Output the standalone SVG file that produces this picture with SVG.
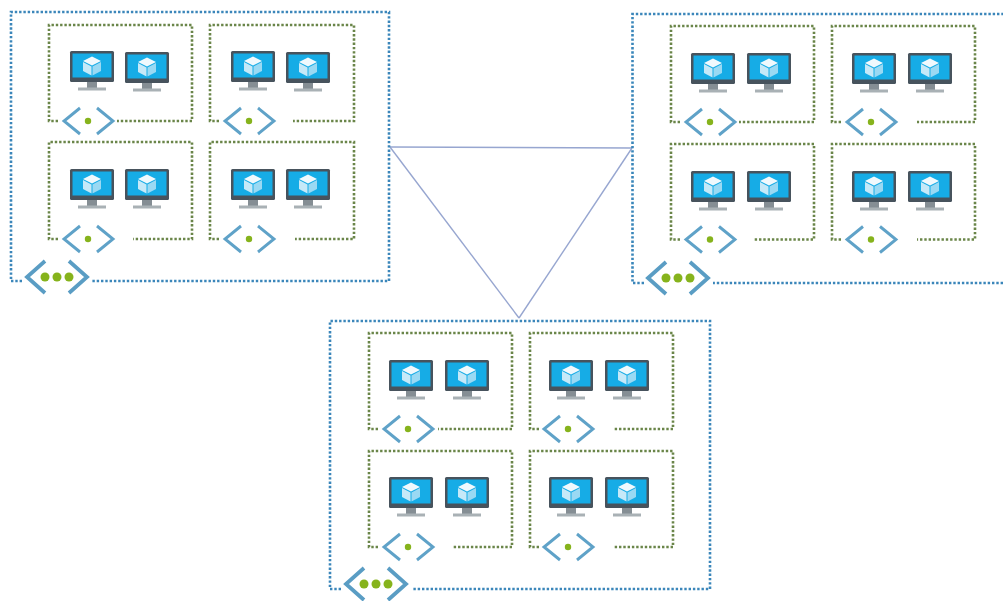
<svg xmlns="http://www.w3.org/2000/svg" width="1003" height="601" viewBox="0 0 1003 601">
<style>
.vnet{fill:none;stroke:#3a86ba;stroke-width:2.6;stroke-dasharray:2.4 1.9}
.subnet{fill:none;stroke:#6a8548;stroke-width:2.6;stroke-dasharray:2.4 1.9}
.link{fill:none;stroke:#97a6d0;stroke-width:1.4}
.chev{fill:none;stroke:#5fa2c8;stroke-width:2.9}
.chevl{fill:none;stroke:#5a9dc4;stroke-width:3.8}
.dot{fill:#86b31d}
</style>
<defs>
<filter id="soft" x="-2%" y="-2%" width="104%" height="104%"><feGaussianBlur stdDeviation="0.55"/></filter>
<g id="vm">
<rect x="0" y="0" width="44" height="31" rx="1.5" fill="#47535d"/>
<rect x="2.500" y="2.500" width="39" height="24" fill="#17ace6"/>
<rect x="17" y="31" width="10" height="6" fill="#858e94"/>
<rect x="8" y="36.500" width="28" height="3" fill="#a9b1b5"/>
<polygon points="22,5.500 31,10 22,14.500 13,10" fill="#f0f9fd"/>
<polygon points="13,11 21.500,15.500 21.500,24.500 13,20" fill="#c6e9f8"/>
<polygon points="31,11 22.500,15.500 22.500,24.500 31,20" fill="#9ad9f3"/>
</g>
<g id="snet">
<path class="chev" d="M-8,-13 L-24,0 L-8,13"/>
<path class="chev" d="M9,-13 L25,0 L9,13"/>
<circle class="dot" cx="0" cy="0" r="3.200"/>
</g>
<g id="vnicon">
<path class="chevl" d="M-12,-16 L-30,0 L-12,16"/>
<path class="chevl" d="M12,-16 L30,0 L12,16"/>
<circle class="dot" cx="-12" cy="0" r="4.500"/>
<circle class="dot" cx="0" cy="0" r="4.500"/>
<circle class="dot" cx="12" cy="0" r="4.500"/>
</g>
</defs>
<rect width="1003" height="601" fill="#ffffff"/>
<g filter="url(#soft)">
<g id="connectors">
<line class="link" x1="390" y1="147" x2="632" y2="148"/>
<line class="link" x1="390" y1="147" x2="519" y2="318"/>
<line class="link" x1="632" y1="148" x2="519" y2="318"/>
</g>
<g id="vnet-a">
<path class="vnet" d="M22,281 H11 V12 H389 V281 H92"/>
<use href="#vnicon" x="57" y="277"/>
</g>
<g id="subnet-a1">
<path class="subnet" d="M58,121 H49 V25 H192 V121 H117"/>
<use href="#vm" x="70" y="51"/><use href="#vm" x="125" y="52"/><use href="#snet" x="88" y="121"/>
</g>
<g id="subnet-a2">
<path class="subnet" d="M219,121 H210 V25 H354 V121 H293"/>
<use href="#vm" x="231" y="51"/><use href="#vm" x="286" y="52"/><use href="#snet" x="249" y="121"/>
</g>
<g id="subnet-a3">
<path class="subnet" d="M58,239 H49 V142 H192 V239 H133"/>
<use href="#vm" x="70" y="169"/><use href="#vm" x="125" y="169"/><use href="#snet" x="88" y="239"/>
</g>
<g id="subnet-a4">
<path class="subnet" d="M219,239 H210 V142 H354 V239 H295"/>
<use href="#vm" x="231" y="169"/><use href="#vm" x="286" y="169"/><use href="#snet" x="249" y="239"/>
</g>
<g id="vnet-b">
<path class="vnet" d="M644,283 H632.500 V14 H1003 M1003,283 H713"/>
<use href="#vnicon" x="678" y="278"/>
</g>
<g id="subnet-b1">
<path class="subnet" d="M680,122 H671 V26 H814 V122 H739"/>
<use href="#vm" x="691" y="53"/><use href="#vm" x="747" y="53"/><use href="#snet" x="710" y="122"/>
</g>
<g id="subnet-b2">
<path class="subnet" d="M841,122 H832 V26 H975 V122 H917"/>
<use href="#vm" x="852" y="53"/><use href="#vm" x="908" y="53"/><use href="#snet" x="871" y="122"/>
</g>
<g id="subnet-b3">
<path class="subnet" d="M680,239.500 H671 V144 H814 V239.500 H754"/>
<use href="#vm" x="691" y="171"/><use href="#vm" x="747" y="171"/><use href="#snet" x="710" y="239.500"/>
</g>
<g id="subnet-b4">
<path class="subnet" d="M841,239.500 H832 V144 H975 V239.500 H917"/>
<use href="#vm" x="852" y="171"/><use href="#vm" x="908" y="171"/><use href="#snet" x="871" y="239.500"/>
</g>
<g id="vnet-c">
<path class="vnet" d="M341,589 H330 V321 H710 V589 H413"/>
<use href="#vnicon" x="376" y="584"/>
</g>
<g id="subnet-c1">
<path class="subnet" d="M378,429 H369 V333 H512 V429 H438"/>
<use href="#vm" x="389" y="360"/><use href="#vm" x="445" y="360"/><use href="#snet" x="408" y="429"/>
</g>
<g id="subnet-c2">
<path class="subnet" d="M539,429 H530 V333 H673 V429 H613"/>
<use href="#vm" x="549" y="360"/><use href="#vm" x="605" y="360"/><use href="#snet" x="568" y="429"/>
</g>
<g id="subnet-c3">
<path class="subnet" d="M378,547 H369 V451 H512 V547 H452"/>
<use href="#vm" x="389" y="477"/><use href="#vm" x="445" y="477"/><use href="#snet" x="408" y="547"/>
</g>
<g id="subnet-c4">
<path class="subnet" d="M539,547 H530 V451 H673 V547 H613"/>
<use href="#vm" x="549" y="477"/><use href="#vm" x="605" y="477"/><use href="#snet" x="568" y="547"/>
</g>
</g>
</svg>
